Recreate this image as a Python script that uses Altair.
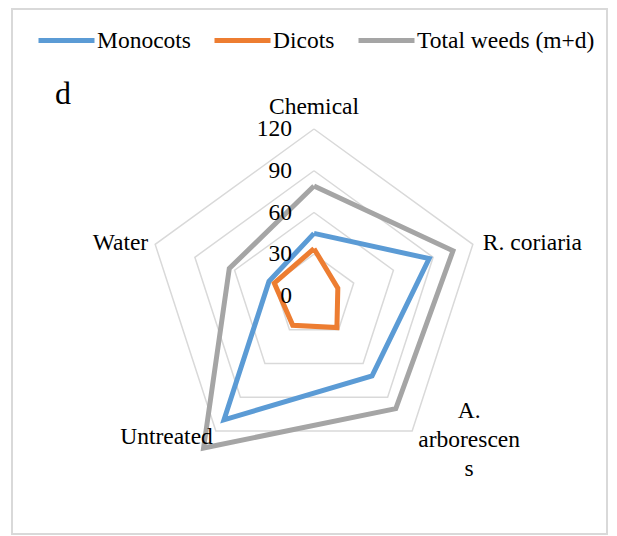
import math
import altair as alt
import pandas as pd

# ---- data ----
categories = ["Chemical", "R. coriaria", "A. arborescens", "Untreated", "Water"]
monocots = [45, 87, 71, 110, 34]
dicots = [34, 18, 28, 26, 30]
total = [79, 105, 100, 135, 64]
series_names = ["Monocots", "Dicots", "Total weeds (m+d)"]
series_colors = ["#5B9BD5", "#ED7D31", "#A5A5A5"]
grid_levels = [30, 60, 90, 120]
tick_values = [0, 30, 60, 90, 120]

FONT = "Liberation Serif, Times New Roman, serif"
PX = 167 / 120.0          # pixels per value unit
W, H = 597, 527
CX, CY = 303, 288          # centre in plot pixels
XDOM = [-CX / PX, (W - CX) / PX]
YDOM = [-(H - CY) / PX, CY / PX]

rows = []
for name, vals in zip(series_names, [monocots, dicots, total]):
    for i in range(6):
        rows.append({"series": name, "idx": i % 5, "ord": i, "value": vals[i % 5]})
df = pd.DataFrame(rows)

grid_rows = []
for lv in grid_levels:
    for i in range(6):
        grid_rows.append({"level": lv, "idx": i % 5, "ord": i, "value": lv})
grid_df = pd.DataFrame(grid_rows)

lab_df = pd.DataFrame({"cat": categories, "idx": list(range(5)), "value": [120] * 5})
tick_df = pd.DataFrame({"t": [str(v) for v in tick_values], "value": tick_values, "idx": [0] * 5})

xs = alt.Scale(domain=XDOM, nice=False, zero=False)
ys = alt.Scale(domain=YDOM, nice=False, zero=False)


def polar(ch):
    return ch.transform_calculate(
        x="datum.value * sin(datum.idx * 2 * PI / 5)",
        y="datum.value * cos(datum.idx * 2 * PI / 5)",
    )


X = alt.X("x:Q", scale=xs, axis=None)
Y = alt.Y("y:Q", scale=ys, axis=None)

border = alt.Chart(pd.DataFrame({"b": [1]})).mark_rect(
    fill="white", fillOpacity=0, stroke="#D9D9D9", strokeWidth=2
).encode(x=alt.value(1), x2=alt.value(W - 1), y=alt.value(1), y2=alt.value(H - 1))

grid = polar(alt.Chart(grid_df)).mark_line(color="#D9D9D9", strokeWidth=1.5).encode(
    x=X, y=Y, order="ord:Q", detail="level:N"
)

color = alt.Color(
    "series:N",
    scale=alt.Scale(domain=series_names, range=series_colors),
    sort=series_names,
    legend=alt.Legend(
        title=None,
        orient="none",
        legendX=25,
        legendY=2,
        direction="horizontal",
        symbolType="stroke",
        symbolSize=3136,
        symbolStrokeWidth=5,
        labelFont=FONT,
        labelFontSize=23.5,
        labelColor="black",
        labelOffset=0,
        columnPadding=13,
        padding=0,
        labelLimit=300,
    ),
)

lines = []
for name in series_names:
    lines.append(
        polar(alt.Chart(df).transform_filter(alt.datum.series == name))
        .mark_line(strokeWidth=5, strokeJoin="miter")
        .encode(x=X, y=Y, order="ord:Q", color=color)
    )

ticks = polar(alt.Chart(tick_df)).mark_text(
    align="right", baseline="middle", dx=-22, font=FONT, fontSize=23.5, color="black"
).encode(x=X, y=Y, text="t:N")

label_styles = {
    "Chemical": dict(align="center", dx=0, dy=-22),
    "R. coriaria": dict(align="left", dx=10, dy=-1),
    "A. arborescens": dict(align="center", dx=57, dy=-20, lineBreak="\n", lineHeight=29),
    "Untreated": dict(align="right", dx=-3, dy=6),
    "Water": dict(align="right", dx=-7, dy=-1),
}
label_text = {"A. arborescens": "A.\narborescen\ns"}
labels = []
for cat in categories:
    st = label_styles[cat]
    labels.append(
        polar(alt.Chart(lab_df).transform_filter(alt.datum.cat == cat))
        .transform_calculate(txt=f"'{label_text.get(cat, cat)}'".replace("\n", "\\n"))
        .mark_text(baseline="middle", font=FONT, fontSize=23.5, color="black", **st)
        .encode(x=X, y=Y, text="txt:N")
    )

panel = alt.Chart(pd.DataFrame({"t": ["d"]})).mark_text(
    align="left", baseline="alphabetic", font=FONT, fontSize=32, color="black"
).encode(x=alt.value(44), y=alt.value(96), text="t:N")

chart = (
    alt.layer(border, grid, *lines, ticks, *labels, panel)
    .properties(width=W, height=H, autosize="none", padding={"left": 3, "top": 0, "right": 0, "bottom": 0})
    .configure_view(stroke=None)
    .configure(background="white")
)

chart.save("out.html", embed_options={"renderer": "svg", "actions": False})
